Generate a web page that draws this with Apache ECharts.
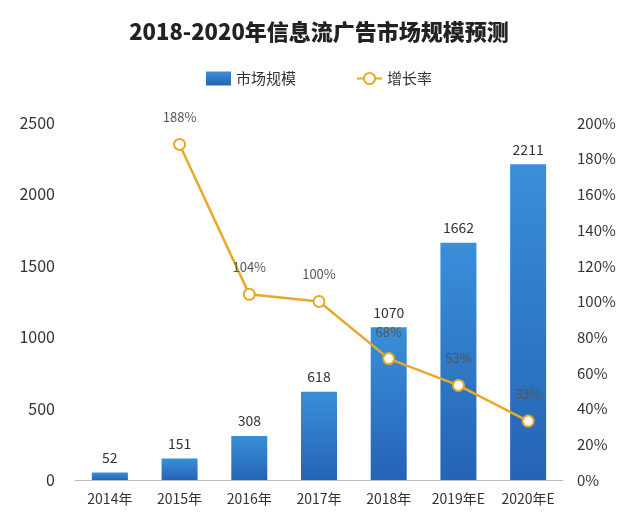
<!DOCTYPE html>
<html><head><meta charset="utf-8">
<script src="https://cdn.jsdelivr.net/npm/echarts@6/dist/echarts.min.js"></script>
<style>body{margin:0}#main{width:638px;height:532px}</style>
</head><body><div id="main"></div>
<script>
const years = ["2014年","2015年","2016年","2017年","2018年","2019年E","2020年E"];
const marketSize = [52,151,308,618,1070,1662,2211];
const growthRate = [null,188,104,100,68,53,33];

const chart = echarts.init(document.getElementById("main"));
chart.setOption({
  textStyle: { fontFamily: "Noto Sans CJK SC" },
  title: { text: "2018-2020年信息流广告市场规模预测", left: "center", top: 16,
    textStyle: { fontSize: 22, fontWeight: 900, color: "#222" } },
  legend: { top: 66, itemGap: 60, textStyle: { fontSize: 15, color: "#333" },
    data: [{ name: "市场规模", icon: "rect" }, { name: "增长率" }] },
  grid: { left: 75, right: 75, top: 123, bottom: 52 },
  xAxis: { type: "category", data: years,
    axisLine: { lineStyle: { color: "#bbb" } }, axisTick: { show: false },
    axisLabel: { fontSize: 14, color: "#333", margin: 12, interval: 0 } },
  yAxis: [
    { type: "value", min: 0, max: 2500, interval: 500, splitLine: { show: false },
      axisLabel: { fontSize: 16, color: "#333", margin: 20, formatter: v => String(v) } },
    { type: "value", min: 0, max: 200, interval: 20, splitLine: { show: false },
      axisLabel: { fontSize: 15, color: "#333", formatter: "{value}%", margin: 14 } }
  ],
  series: [
    { name: "市场规模", type: "bar", data: marketSize, barWidth: 36,
      itemStyle: { color: new echarts.graphic.LinearGradient(0,0,0,1,[
        { offset: 0, color: "#3a8fd9" }, { offset: 1, color: "#2464b4" }]) },
      label: { show: true, position: "top", fontSize: 14, color: "#333", distance: 8 } },
    { name: "增长率", type: "line", yAxisIndex: 1, data: growthRate,
      symbol: "circle", symbolSize: 11,
      lineStyle: { color: "#e8a92b", width: 2.5 },
      itemStyle: { color: "#fff", borderColor: "#e8a92b", borderWidth: 2 },
      label: { show: true, position: "top", distance: 14, fontSize: 13, color: "#555",
        formatter: p => p.value + "%" } }
  ]
});
</script></body></html>
